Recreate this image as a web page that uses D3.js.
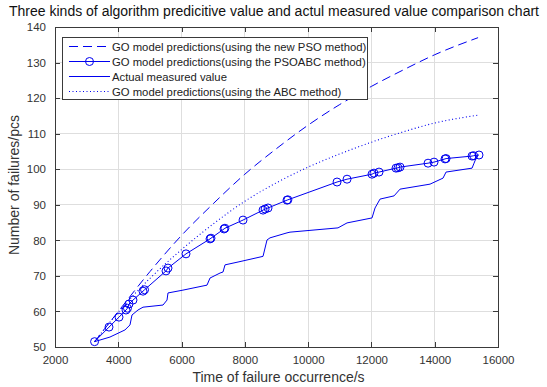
<!DOCTYPE html>
<html>
<head>
<meta charset="utf-8">
<script src="https://cdn.jsdelivr.net/npm/d3@7"></script>
<style>
  html, body { margin: 0; padding: 0; background: #fff; }
  svg { display: block; font-family: "Liberation Sans", Arial, Helvetica, sans-serif; }
</style>
</head>
<body>
<svg id="chart" width="547" height="387"></svg>
<script>
// ---------- data ----------
const titleText = "Three kinds of algorithm predicitive value and actul measured value comparison chart";
const xLabelText = "Time of failure occurrence/s";
const yLabelText = "Number of failures/pcs";
const xTicks = [2000, 4000, 6000, 8000, 10000, 12000, 14000, 16000];
const yTicks = [50, 60, 70, 80, 90, 100, 110, 120, 130, 140];

const legendLabels = [
  "GO model predictions(using the new PSO method)",
  "GO model predictions(using the PSOABC method)",
  "Actual measured value",
  "GO model predictions(using the ABC method)"
];

// new PSO method (dashed)
const psoT = [3250, 4000, 5000, 6000, 7000, 8000, 9000, 10000, 11000, 12000, 13000, 14000, 15370];
const psoV = [51.5, 60.0, 71.2, 81.4, 90.3, 98.6, 105.8, 112.4, 118.2, 123.3, 127.9, 132.2, 137.0];

// ABC method (dotted)
const abcT = [3250, 4000, 5000, 6000, 7000, 8000, 9000, 10000, 11000, 12000, 13000, 14000, 15370];
const abcV = [51.5, 59.8, 69.3, 77.4, 84.6, 91.0, 96.2, 100.6, 104.3, 107.6, 110.5, 113.0, 115.2];

// PSOABC method (line with circles)
const psoabcT = [3250, 3707, 4023, 4244, 4290, 4339, 4465, 4781, 4830, 5508, 5571, 6140, 6899, 6930, 7341, 7370, 7942, 8574, 8640, 8732, 9332, 9360, 10913, 11229, 12019, 12080, 12240, 12777, 12840, 12904, 13789, 13978, 14326, 14360, 15180, 15230, 15400];
const psoabcV = [51.5, 55.6, 58.4, 60.4, 60.9, 62.1, 63.2, 65.7, 66.1, 71.4, 72.2, 76.2, 80.4, 80.6, 83.2, 83.4, 85.7, 88.5, 88.8, 89.1, 91.3, 91.4, 96.4, 97.2, 98.6, 98.9, 99.2, 100.3, 100.4, 100.6, 101.7, 102.0, 102.9, 103.0, 103.7, 103.8, 104.0];

// actual measured value (solid)
const actualT = [3250, 3738, 4212, 4370, 4433, 4623, 4781, 5414, 5540, 5571, 6045, 6804, 6899, 7215, 7310, 7373, 7784, 8479, 8574, 8700, 8795, 9332, 9427, 10944, 11229, 12019, 12114, 12272, 12715, 12904, 13852, 14263, 14358, 15180, 15243, 15338];
const actualV = [51.5, 52.8, 54.8, 56.2, 59.0, 60.4, 61.2, 61.8, 63.2, 65.2, 66.0, 67.4, 69.4, 70.8, 71.1, 73.1, 73.9, 75.3, 75.5, 80.1, 80.7, 82.1, 82.3, 83.5, 84.9, 86.3, 89.1, 91.6, 92.5, 94.4, 95.8, 97.5, 99.2, 100.3, 101.7, 103.8];

// ---------- layout ----------
const W = 547, H = 387;
const m = { left: 55, right: 49, top: 27, bottom: 40 };
const pw = W - m.left - m.right, ph = H - m.top - m.bottom;
const blue = "#0000f0";
const axisColor = "#3a3a3a";
const textColor = "#333333";

const svg = d3.select("#chart");
svg.append("rect").attr("width", W).attr("height", H).attr("fill", "#fff");

const x = d3.scaleLinear().domain([2000, 16000]).range([m.left, m.left + pw]);
const y = d3.scaleLinear().domain([50, 140]).range([m.top + ph, m.top]);

// grid
const grid = svg.append("g");
grid.selectAll("line.gx").data(xTicks.slice(1, -1)).join("line")
  .attr("x1", d => x(d)).attr("x2", d => x(d))
  .attr("y1", m.top).attr("y2", m.top + ph)
  .attr("stroke", "#dedede").attr("stroke-width", 1).attr("shape-rendering", "crispEdges");
grid.selectAll("line.gy").data(yTicks.slice(1, -1)).join("line")
  .attr("x1", m.left).attr("x2", m.left + pw)
  .attr("y1", d => y(d)).attr("y2", d => y(d))
  .attr("stroke", "#dedede").attr("stroke-width", 1).attr("shape-rendering", "crispEdges");

// axes (MATLAB-like: ticks inside, box on)
const tickLen = 5;
const xAxisB = d3.axisBottom(x).tickValues(xTicks).tickSize(-tickLen).tickPadding(tickLen + 4).tickFormat(d3.format("d"));
const xAxisT = d3.axisTop(x).tickValues(xTicks).tickSize(-tickLen).tickFormat("");
const yAxisL = d3.axisLeft(y).tickValues(yTicks).tickSize(-tickLen).tickPadding(tickLen + 4).tickFormat(d3.format("d"));
const yAxisR = d3.axisRight(y).tickValues(yTicks).tickSize(-tickLen).tickFormat("");

function styleAxis(g) {
  g.selectAll("path.domain").attr("stroke", axisColor).attr("shape-rendering", "crispEdges");
  g.selectAll(".tick line").attr("stroke", axisColor).attr("shape-rendering", "crispEdges");
  g.selectAll(".tick text").attr("fill", textColor).attr("font-size", "11.5px")
    .attr("font-family", "'Liberation Sans', Arial, sans-serif");
}
svg.append("g").attr("transform", `translate(0,${m.top + ph})`).call(xAxisB).call(styleAxis);
svg.append("g").attr("transform", `translate(0,${m.top})`).call(xAxisT).call(styleAxis);
svg.append("g").attr("transform", `translate(${m.left},0)`).call(yAxisL).call(styleAxis);
svg.append("g").attr("transform", `translate(${m.left + pw},0)`).call(yAxisR).call(styleAxis);

// series
const zip = (ts, vs) => ts.map((t, i) => [t, vs[i]]);
const lineSmooth = d3.line().x(d => x(d[0])).y(d => y(d[1])).curve(d3.curveMonotoneX);
const lineStraight = d3.line().x(d => x(d[0])).y(d => y(d[1]));

const plot = svg.append("g");
plot.append("path").datum(zip(psoT, psoV)).attr("d", lineSmooth)
  .attr("fill", "none").attr("stroke", blue).attr("stroke-width", 1).attr("stroke-dasharray", "9,5");
plot.append("path").datum(zip(abcT, abcV)).attr("d", lineSmooth)
  .attr("fill", "none").attr("stroke", blue).attr("stroke-width", 1.1).attr("stroke-dasharray", "1,2.5");
plot.append("path").datum(zip(actualT, actualV)).attr("d", lineStraight)
  .attr("fill", "none").attr("stroke", blue).attr("stroke-width", 1);
plot.append("path").datum(zip(psoabcT, psoabcV)).attr("d", lineStraight)
  .attr("fill", "none").attr("stroke", blue).attr("stroke-width", 1);
plot.selectAll("circle.m").data(zip(psoabcT, psoabcV)).join("circle")
  .attr("cx", d => x(d[0])).attr("cy", d => y(d[1])).attr("r", 4)
  .attr("fill", "none").attr("stroke", blue).attr("stroke-width", 1);

// title and axis labels
svg.append("text").attr("x", 274).attr("y", 16).attr("text-anchor", "middle")
  .attr("font-size", "14px").attr("fill", "#111").text(titleText);
svg.append("text").attr("x", m.left + pw / 2 + 2).attr("y", 382).attr("text-anchor", "middle")
  .attr("font-size", "14px").attr("fill", textColor).text(xLabelText);
svg.append("text").attr("transform", `translate(19,${m.top + ph / 2 - 2}) rotate(-90)`)
  .attr("text-anchor", "middle").attr("font-size", "14px").attr("fill", textColor).text(yLabelText);

// legend
const lg = svg.append("g");
const lx = 62, ly = 37, lw = 305, lh = 62;
lg.append("rect").attr("x", lx).attr("y", ly).attr("width", lw).attr("height", lh)
  .attr("fill", "#fff").attr("stroke", "#3a3a3a").attr("stroke-width", 1).attr("shape-rendering", "crispEdges");
const rowY = [46.5, 61.5, 76.5, 91.5];
const styles = [
  { dash: "9,5", marker: false },
  { dash: null, marker: true },
  { dash: null, marker: false },
  { dash: "1,2.5", marker: false }
];
legendLabels.forEach((lab, i) => {
  const ln = lg.append("line").attr("x1", 69).attr("x2", 110).attr("y1", rowY[i]).attr("y2", rowY[i])
    .attr("stroke", blue).attr("stroke-width", 1);
  if (styles[i].dash) ln.attr("stroke-dasharray", styles[i].dash);
  if (styles[i].marker) lg.append("circle").attr("cx", 89.5).attr("cy", rowY[i]).attr("r", 4)
    .attr("fill", "none").attr("stroke", blue).attr("stroke-width", 1);
  lg.append("text").attr("x", 112).attr("y", rowY[i] + 4).attr("font-size", "11.3px")
    .attr("fill", "#222").text(lab);
});
</script>
</body>
</html>
